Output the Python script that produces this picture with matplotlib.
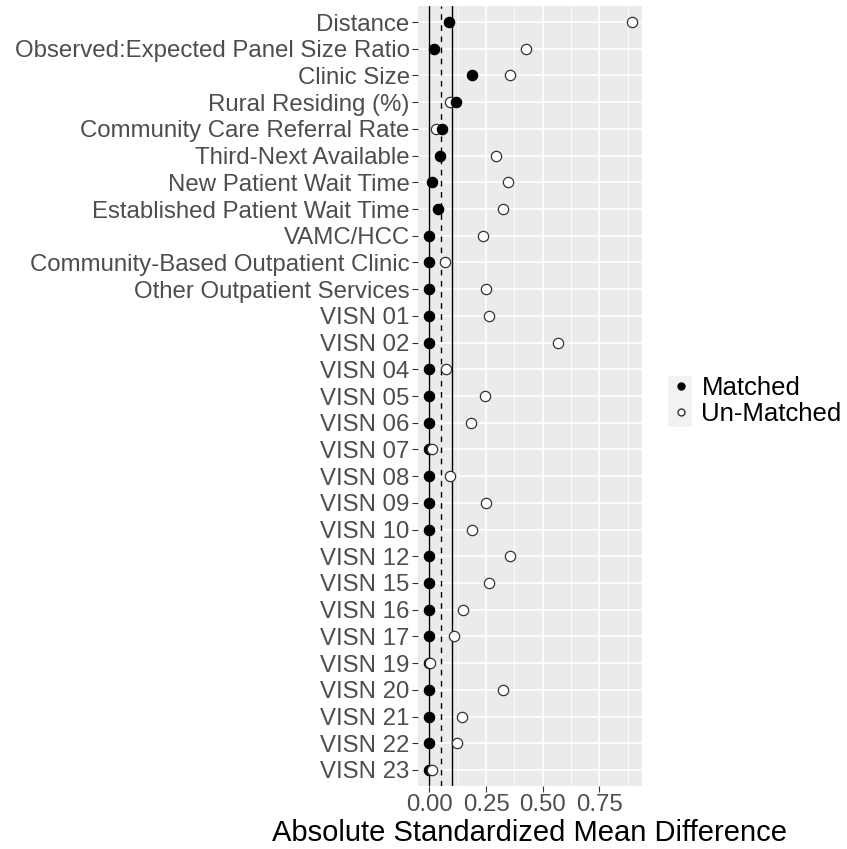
import matplotlib
matplotlib.use("Agg")
import matplotlib.pyplot as plt
from matplotlib.lines import Line2D
from matplotlib.patches import Rectangle
import numpy as np

plt.rcParams['font.family'] = ['Liberation Sans', 'DejaVu Sans']

variables = [
    "Distance", "Observed:Expected Panel Size Ratio", "Clinic Size",
    "Rural Residing (%)", "Community Care Referral Rate", "Third-Next Available",
    "New Patient Wait Time", "Established Patient Wait Time", "VAMC/HCC",
    "Community-Based Outpatient Clinic", "Other Outpatient Services",
    "VISN 01", "VISN 02", "VISN 04", "VISN 05", "VISN 06", "VISN 07", "VISN 08",
    "VISN 09", "VISN 10", "VISN 12", "VISN 15", "VISN 16", "VISN 17", "VISN 19",
    "VISN 20", "VISN 21", "VISN 22", "VISN 23",
]
matched = [0.087, 0.022, 0.188, 0.116, 0.056, 0.046, 0.010, 0.038, 0.0, 0.0, 0.0,
           0.0, 0.0, 0.0, 0.0, 0.0, 0.0, 0.0, 0.0, 0.0, 0.0, 0.0, 0.0, 0.0, 0.0,
           0.0, 0.0, 0.0, 0.0]
unmatched = [0.894, 0.426, 0.357, 0.093, 0.030, 0.294, 0.345, 0.326, 0.237, 0.071, 0.250,
             0.262, 0.569, 0.074, 0.244, 0.185, 0.010, 0.090, 0.252, 0.187, 0.357, 0.262,
             0.149, 0.109, 0.001, 0.323, 0.146, 0.122, 0.012]
thresholds = [0.05, 0.1]
# rows where the matched point sits over the un-matched one
matched_on_top = ["Rural Residing (%)", "Community Care Referral Rate"]

W, H = 847, 849
fig = plt.figure(figsize=(W / 100, H / 100), dpi=100)
ax = fig.add_axes([418 / W, 1 - 786 / H, (642 - 418) / W, (786 - 6) / H])

n = len(variables)
ypos = np.arange(n)[::-1]

ax.set_facecolor('#EBEBEB')
for s in ax.spines.values():
    s.set_visible(False)

ax.set_xlim(-0.05, 0.938)
ax.set_ylim(-0.6, n - 1 + 0.6)

# grid
for x in [0.125, 0.375, 0.625, 0.875]:
    ax.axvline(x, color='white', lw=0.6, zorder=0)
for x in [0, 0.25, 0.5, 0.75]:
    ax.axvline(x, color='white', lw=1.2, zorder=0)
for y in ypos:
    ax.axhline(y, color='white', lw=1.2, zorder=0)

ax.axvline(0, color='black', lw=1.0, zorder=1)
ax.axvline(thresholds[0], color='black', lw=1.0, ls=(0, (4, 4)), zorder=1)
ax.axvline(thresholds[1], color='black', lw=1.0, zorder=1)

for name, m, u, y in zip(variables, matched, unmatched, ypos):
    mz, uz = (4, 3) if name in matched_on_top else (3, 4)
    ax.scatter([u], [y], s=55, facecolor='white', edgecolor='#333333', lw=0.9, zorder=uz)
    ax.scatter([m], [y], s=55, facecolor='black', edgecolor='black', lw=0.9, zorder=mz)

ax.set_yticks(ypos)
ax.set_yticklabels(variables)
ax.set_xticks([0, 0.25, 0.5, 0.75])
ax.set_xticklabels(["0.00", "0.25", "0.50", "0.75"])
ax.tick_params(axis='both', colors='#333333', length=4, width=0.8,
               labelsize=17.3, labelcolor='#4D4D4D', pad=2)
ax.set_xlabel("Absolute Standardized Mean Difference", fontsize=21, color='black', labelpad=2)

# legend key background
fig.patches.append(Rectangle((668 / W, 1 - 427 / H), 24 / W, 51 / H,
                             transform=fig.transFigure, facecolor='#F2F2F2',
                             edgecolor='none', zorder=0))
handles = [
    Line2D([], [], marker='o', ls='', markerfacecolor='black', markeredgecolor='black', markersize=5),
    Line2D([], [], marker='o', ls='', markerfacecolor='white', markeredgecolor='#333333', markersize=5),
]
leg = fig.legend(handles, ["Matched", "Un-Matched"], loc='center left',
                 bbox_to_anchor=(668 / W, 1 - 401 / H), frameon=False,
                 fontsize=18.5, handlelength=1.0, handletextpad=0.3,
                 labelspacing=0.05, borderpad=0, borderaxespad=0)

fig.savefig("out.png", dpi=100)
